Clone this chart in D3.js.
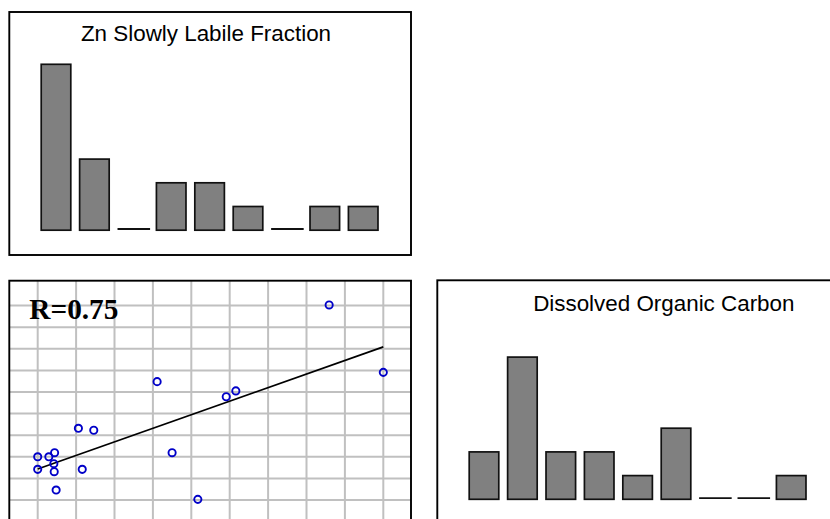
<!DOCTYPE html>
<html>
<head>
<meta charset="utf-8">
<script src="https://cdn.jsdelivr.net/npm/d3@7/dist/d3.min.js"></script>
<style>
  html, body { margin: 0; padding: 0; background: #fff; }
  svg { display: block; }
</style>
</head>
<body>
<svg id="chart" width="830" height="519"></svg>
<script>
// Sampling sites shared by both bar panels
const sites = ["S1", "S2", "S3", "S4", "S5", "S6", "S7", "S8", "S9"];

// Bar panel values (counts per site)
const znSlowlyLabile = [7, 3, 0, 2, 2, 1, 0, 1, 1];
const dissolvedOrganicCarbon = [2, 6, 2, 2, 1, 3, 0, 0, 1];

// Scatter values
const scatterX = [7.59, 9.00, 3.11, 4.91, 5.16, 1.06, 1.46, 3.50, 0.00, 0.29, 0.44, 0.42, 0.00, 0.43, 1.16, 0.48, 4.17];
const scatterY = [9.03, 5.91, 5.48, 4.78, 5.05, 3.32, 3.23, 2.19, 2.00, 2.00, 2.19, 1.68, 1.42, 1.31, 1.42, 0.46, 0.03];

// Grid line positions for the scatter panel
const gridTicks = [0, 1, 2, 3, 4, 5, 6, 7, 8, 9];

const svg = d3.select("#chart");
svg.append("rect").attr("width", 830).attr("height", 519).attr("fill", "#fff");

const FONT_SANS = "'Liberation Sans', Arial, Helvetica, sans-serif";
const FONT_SERIF = "'Liberation Serif', 'Times New Roman', serif";

// ---------- bar panel ----------
function barPanel(opts) {
  const g = svg.append("g").attr("transform", `translate(${opts.left},${opts.top})`);

  const x = d3.scaleBand()
    .domain(sites)
    .range([27.5, 373.1])
    .paddingInner(0.23)
    .paddingOuter(0.115);

  const y = d3.scaleLinear()
    .domain([0, 1])
    .range([opts.base, opts.base - 23.7]);

  const bars = sites.map((s, i) => ({ site: s, value: opts.values[i] }));

  g.selectAll("rect.bar")
    .data(bars.filter(d => d.value > 0))
    .join("rect")
    .attr("class", "bar")
    .attr("x", d => x(d.site))
    .attr("width", x.bandwidth())
    .attr("y", d => y(d.value))
    .attr("height", d => y(0) - y(d.value))
    .attr("fill", "#808080")
    .attr("stroke", "#111")
    .attr("stroke-width", 1.7);

  // empty sites are marked by a flat stroke on the baseline
  g.selectAll("line.zero")
    .data(bars.filter(d => d.value === 0))
    .join("line")
    .attr("class", "zero")
    .attr("x1", d => x(d.site) - 0.5)
    .attr("x2", d => x(d.site) + x.bandwidth() + 2.5)
    .attr("y1", y(0) - 1.2)
    .attr("y2", y(0) - 1.2)
    .attr("stroke", "#111")
    .attr("stroke-width", 1.8);

  g.append("text")
    .attr("x", opts.titleX)
    .attr("y", opts.titleY)
    .attr("text-anchor", "middle")
    .attr("font-family", FONT_SANS)
    .attr("font-size", 22.4)
    .attr("fill", "#000")
    .text(opts.title);

  g.append("rect")
    .attr("x", 0).attr("y", 0)
    .attr("width", opts.width).attr("height", opts.height)
    .attr("fill", "none")
    .attr("stroke", "#000")
    .attr("stroke-width", 1.9);
}

barPanel({
  left: 9.3, top: 12, width: 401.7, height: 243,
  base: 218.2, values: znSlowlyLabile,
  title: "Zn Slowly Labile Fraction", titleX: 196.7, titleY: 29
});

barPanel({
  left: 437.3, top: 280.3, width: 401.7, height: 260,
  base: 219, values: dissolvedOrganicCarbon,
  title: "Dissolved Organic Carbon", titleX: 226.5, titleY: 30.8
});

// ---------- scatter panel ----------
const sx = d3.scaleLinear().domain([0, 9]).range([37.7, 383.3]);
const sy = d3.scaleLinear().domain([0, 9]).range([500, 305.6]);

const sc = svg.append("g");
const frame = { x0: 9.3, y0: 280.7, x1: 411, y1: 545 };

sc.selectAll("line.vgrid")
  .data(gridTicks)
  .join("line")
  .attr("class", "vgrid")
  .attr("x1", d => sx(d)).attr("x2", d => sx(d))
  .attr("y1", frame.y0).attr("y2", frame.y1)
  .attr("stroke", "#c0c0c0")
  .attr("stroke-width", 2);

sc.selectAll("line.hgrid")
  .data(gridTicks)
  .join("line")
  .attr("class", "hgrid")
  .attr("x1", frame.x0).attr("x2", frame.x1)
  .attr("y1", d => sy(d)).attr("y2", d => sy(d))
  .attr("stroke", "#c0c0c0")
  .attr("stroke-width", 2);

// least-squares fit and correlation
const pts = scatterX.map((v, i) => [v, scatterY[i]]);
const mx = d3.mean(scatterX), my = d3.mean(scatterY);
let sxy = 0, sxx = 0, syy = 0;
pts.forEach(([a, b]) => {
  sxy += (a - mx) * (b - my);
  sxx += (a - mx) ** 2;
  syy += (b - my) ** 2;
});
const slope = sxy / sxx;
const intercept = my - slope * mx;
const r = sxy / Math.sqrt(sxx * syy);
const [xmin, xmax] = d3.extent(scatterX);

sc.append("path")
  .datum([xmin, xmax])
  .attr("d", d3.line().x(d => sx(d)).y(d => sy(intercept + slope * d)))
  .attr("fill", "none")
  .attr("stroke", "#000")
  .attr("stroke-width", 1.7);

sc.selectAll("circle")
  .data(pts)
  .join("circle")
  .attr("cx", d => sx(d[0]))
  .attr("cy", d => sy(d[1]))
  .attr("r", 3.6)
  .attr("fill", "none")
  .attr("stroke", "#0000c8")
  .attr("stroke-width", 1.9);

sc.append("text")
  .attr("x", 29.3)
  .attr("y", 319.3)
  .attr("font-family", FONT_SERIF)
  .attr("font-weight", "bold")
  .attr("font-size", 29.3)
  .attr("fill", "#000")
  .text("R=" + d3.format(".2f")(r));

sc.append("rect")
  .attr("x", frame.x0).attr("y", frame.y0)
  .attr("width", frame.x1 - frame.x0).attr("height", frame.y1 - frame.y0)
  .attr("fill", "none")
  .attr("stroke", "#000")
  .attr("stroke-width", 1.9);
</script>
</body>
</html>
